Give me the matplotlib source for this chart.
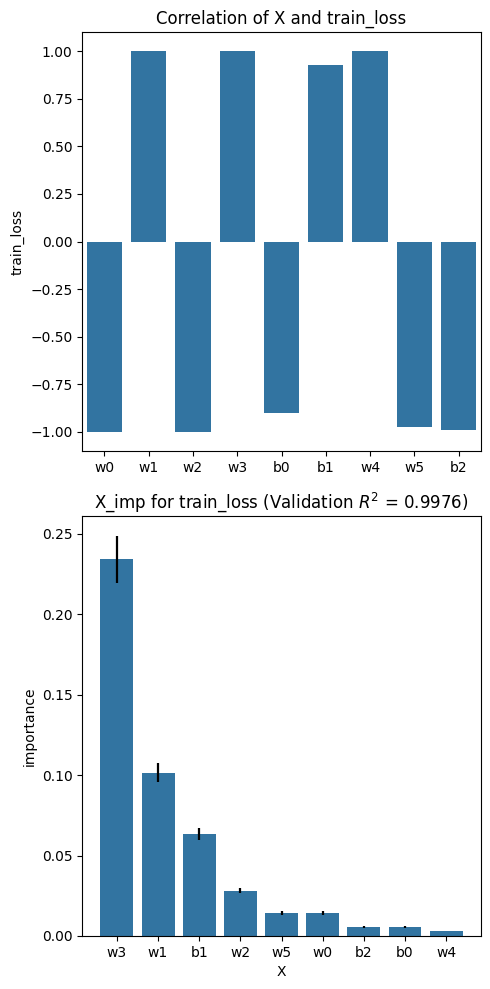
import matplotlib
matplotlib.use("Agg")
import matplotlib.pyplot as plt

# correlation of each parameter with train_loss
corr_names = ['w0', 'w1', 'w2', 'w3', 'b0', 'b1', 'w4', 'w5', 'b2']
corr_values = [-1.00, 1.00, -1.00, 1.00, -0.90, 0.928, 1.00, -0.973, -0.99]

# feature importance (sorted)
imp_names = ['w3', 'w1', 'b1', 'w2', 'w5', 'w0', 'b2', 'b0', 'w4']
imp_values = [0.234, 0.1014, 0.0635, 0.0282, 0.0143, 0.0143, 0.0056, 0.0056, 0.0031]
imp_err = [0.0147, 0.0060, 0.0038, 0.0018, 0.0010, 0.0010, 0.0004, 0.0004, 0.0002]

r2 = 0.9976
bar_color = '#3274a1'

fig = plt.figure(figsize=(4.9, 9.89), dpi=100)

# 상단: 상관계수
ax1 = fig.add_axes([0.168, 0.544, 0.813, 0.4236])
ax1.bar(range(len(corr_names)), corr_values, width=0.8, color=bar_color)
ax1.set_xticks(range(len(corr_names)))
ax1.set_xticklabels(corr_names)
ax1.set_xlim(-0.5, len(corr_names) - 0.5)
ax1.set_ylabel('train_loss')
ax1.set_title('Correlation of X and train_loss')

# 하단: 중요도
ax2 = fig.add_axes([0.168, 0.0536, 0.813, 0.425])
ax2.bar(range(len(imp_names)), imp_values, width=0.8, color=bar_color,
        yerr=imp_err, error_kw={'ecolor': 'black', 'elinewidth': 1.6, 'capsize': 0})
ax2.set_xticks(range(len(imp_names)))
ax2.set_xticklabels(imp_names)
ax2.set_xlabel('X')
ax2.set_ylabel('importance')
ax2.set_title(f'X_imp for train_loss (Validation $R^2$ = {r2})')

plt.savefig('out.png', dpi=100)
